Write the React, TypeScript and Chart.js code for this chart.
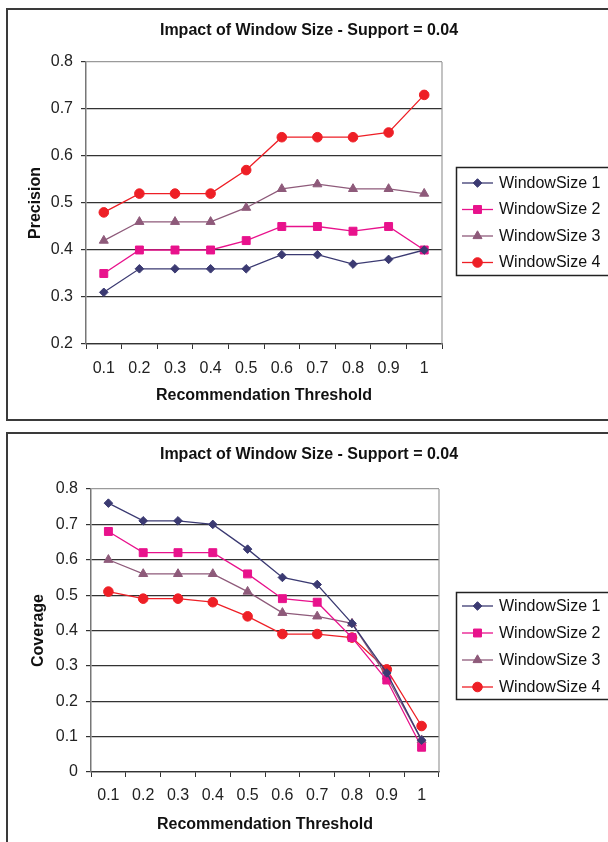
import React, { useEffect, useRef } from "react";
import { Chart, registerables } from "chart.js";
import { drawPoint } from "chart.js/helpers";

Chart.register(...registerables);

const FONT = '"Liberation Sans", Arial, Helvetica, sans-serif';

// ---------- data ----------
const thresholds = ["0.1", "0.2", "0.3", "0.4", "0.5", "0.6", "0.7", "0.8", "0.9", "1"];
const seriesNames = ["WindowSize 1", "WindowSize 2", "WindowSize 3", "WindowSize 4"];
const chartTitle = "Impact of Window Size - Support = 0.04";
const xAxisTitle = "Recommendation Threshold";

const precisionWS1 = [0.31, 0.36, 0.36, 0.36, 0.36, 0.39, 0.39, 0.37, 0.38, 0.4];
const precisionWS2 = [0.35, 0.4, 0.4, 0.4, 0.42, 0.45, 0.45, 0.44, 0.45, 0.4];
const precisionWS3 = [0.42, 0.46, 0.46, 0.46, 0.49, 0.53, 0.54, 0.53, 0.53, 0.52];
const precisionWS4 = [0.48, 0.52, 0.52, 0.52, 0.57, 0.64, 0.64, 0.64, 0.65, 0.73];

const coverageWS1 = [0.76, 0.71, 0.71, 0.7, 0.63, 0.55, 0.53, 0.42, 0.28, 0.09];
const coverageWS2 = [0.68, 0.62, 0.62, 0.62, 0.56, 0.49, 0.48, 0.38, 0.26, 0.07];
const coverageWS3 = [0.6, 0.56, 0.56, 0.56, 0.51, 0.45, 0.44, 0.42, 0.27, 0.09];
const coverageWS4 = [0.51, 0.49, 0.49, 0.48, 0.44, 0.39, 0.39, 0.38, 0.29, 0.13];

const precisionRange = { min: 0.2, max: 0.8, step: 0.1 };
const coverageRange = { min: 0, max: 0.8, step: 0.1 };

// ---------- styles ----------
const seriesColors = ["#3b3a72", "#e8128c", "#8e5a7a", "#ee1f26"];
const seriesMarkers = ["rectRot", "rect", "triangle", "circle"];
const markerRadius = [4.3, 5.6, 5.2, 4.8];

type Layout = {
  height: number;
  top: number;
  left: number;
  right: number;
  bottom: number;
  titleY: number;
  yTitlePad: number;
  xLabelPad: number;
  xTitlePad: number;
  legendTop: number;
  legendBottom: number;
  legendFirst: number;
  legendStep: number;
};

const topLayout: Layout = {
  height: 421,
  top: 62,
  left: 86,
  right: 442,
  bottom: 344,
  titleY: 31,
  yTitlePad: 26,
  xLabelPad: 10,
  xTitlePad: 16,
  legendTop: 167,
  legendBottom: 275,
  legendFirst: 183,
  legendStep: 26.5,
};

const bottomLayout: Layout = {
  height: 421,
  top: 68,
  left: 91,
  right: 439,
  bottom: 351,
  titleY: 34,
  yTitlePad: 29,
  xLabelPad: 9,
  xTitlePad: 8,
  legendTop: 171,
  legendBottom: 278,
  legendFirst: 185,
  legendStep: 27,
};

const decorPlugin = {
  id: "decor",
  beforeDatasetsDraw(chart: any) {
    const { ctx, chartArea } = chart;
    ctx.save();
    ctx.strokeStyle = "#9a9a9a";
    ctx.lineWidth = 1.2;
    ctx.beginPath();
    ctx.moveTo(chartArea.right, chartArea.top);
    ctx.lineTo(chartArea.right, chartArea.bottom);
    ctx.stroke();
    ctx.restore();
  },
  afterDraw(chart: any, _args: any, opts: any) {
    const { ctx } = chart;
    const L: Layout = opts.layout;
    ctx.save();
    // title
    ctx.fillStyle = "#111";
    ctx.font = `bold 16px ${FONT}`;
    ctx.textAlign = "center";
    ctx.textBaseline = "middle";
    ctx.fillText(opts.title, 309, L.titleY);

    // legend box
    ctx.strokeStyle = "#222";
    ctx.lineWidth = 1.5;
    ctx.strokeRect(456.5, L.legendTop + 0.5, 200, L.legendBottom - L.legendTop);

    chart.data.datasets.forEach((ds: any, i: number) => {
      const y = L.legendFirst + i * L.legendStep;
      ctx.strokeStyle = seriesColors[i];
      ctx.fillStyle = seriesColors[i];
      ctx.lineWidth = 1.3;
      ctx.beginPath();
      ctx.moveTo(462, y);
      ctx.lineTo(493, y);
      ctx.stroke();
      ctx.lineWidth = 1;
      drawPoint(
        ctx,
        { pointStyle: seriesMarkers[i], radius: markerRadius[i], rotation: 0, borderWidth: 1 } as any,
        477.5,
        y
      );
      ctx.fillStyle = "#111";
      ctx.font = `16px ${FONT}`;
      ctx.textAlign = "left";
      ctx.textBaseline = "middle";
      ctx.fillText(ds.label, 499, y + 0.5);
    });
    ctx.restore();
  },
};

function buildDatasets(values: number[][]) {
  return values.map((data, i) => ({
    label: seriesNames[i],
    data,
    borderColor: seriesColors[i],
    backgroundColor: seriesColors[i],
    borderWidth: 1.3,
    pointStyle: seriesMarkers[i],
    pointRadius: markerRadius[i],
    pointBorderWidth: 1,
    pointBackgroundColor: seriesColors[i],
    pointBorderColor: seriesColors[i],
    tension: 0,
    fill: false,
  }));
}

function makeConfig(values: number[][], yTitle: string, range: { min: number; max: number; step: number }, L: Layout): any {
  return {
    type: "line",
    data: { labels: thresholds, datasets: buildDatasets(values) },
    plugins: [decorPlugin],
    options: {
      animation: false,
      responsive: false,
      devicePixelRatio: 1,
      layout: { padding: { left: 0, top: L.top, right: 608 - L.right, bottom: 0 } },
      plugins: {
        legend: { display: false },
        title: { display: false },
        tooltip: { enabled: false },
        decor: { title: chartTitle, layout: L },
      },
      scales: {
        x: {
          type: "category",
          offset: true,
          grid: {
            offset: true,
            drawOnChartArea: false,
            drawTicks: true,
            tickLength: 5,
            color: "#333",
            lineWidth: 1,
          },
          border: { color: "#333", width: 1.3 },
          ticks: {
            font: { family: FONT, size: 16 },
            color: "#222",
            padding: L.xLabelPad,
            maxRotation: 0,
            autoSkip: false,
          },
          title: {
            display: true,
            text: xAxisTitle,
            color: "#111",
            font: { family: FONT, size: 16, weight: "bold" },
            padding: { top: 0, bottom: L.xTitlePad },
          },
          afterFit: (s: any) => {
            s.height = L.height - L.bottom;
          },
        },
        y: {
          type: "linear",
          min: range.min,
          max: range.max,
          ticks: {
            stepSize: range.step,
            font: { family: FONT, size: 16 },
            color: "#222",
            padding: 8,
            callback: (v: any) => String(Number(Number(v).toFixed(1))),
          },
          grid: {
            color: (c: any) =>
              c.tick && Math.abs(c.tick.value - range.max) < 1e-6 ? "#9a9a9a" : "#333",
            tickColor: "#333",
            tickLength: 5,
            lineWidth: 1.2,
            drawTicks: true,
          },
          border: { color: "#777", width: 1.5 },
          title: {
            display: true,
            text: yTitle,
            color: "#111",
            font: { family: FONT, size: 16, weight: "bold" },
            padding: { top: L.yTitlePad, bottom: 0 },
          },
          afterFit: (s: any) => {
            s.width = L.left;
          },
        },
      },
    },
  };
}

function LineChart({ config, height, top }: { config: any; height: number; top: number }) {
  const ref = useRef<HTMLCanvasElement | null>(null);
  useEffect(() => {
    if (!ref.current) return;
    const chart = new Chart(ref.current, config);
    return () => chart.destroy();
  }, [config]);
  return (
    <canvas
      ref={ref}
      width={608}
      height={height}
      style={{ position: "absolute", left: 0, top, width: 608, height }}
    />
  );
}

const precisionConfig = makeConfig(
  [precisionWS1, precisionWS2, precisionWS3, precisionWS4],
  "Precision",
  precisionRange,
  topLayout
);
const coverageConfig = makeConfig(
  [coverageWS1, coverageWS2, coverageWS3, coverageWS4],
  "Coverage",
  coverageRange,
  bottomLayout
);

export default function App() {
  const boxStyle: React.CSSProperties = {
    position: "absolute",
    left: 6,
    width: 640,
    border: "2px solid #3a3a3a",
    boxSizing: "border-box",
    pointerEvents: "none",
  };
  return (
    <div
      style={{
        position: "fixed",
        left: 0,
        top: 0,
        width: 608,
        height: 842,
        overflow: "hidden",
        background: "#fff",
      }}
    >
      <LineChart config={precisionConfig} height={topLayout.height} top={0} />
      <LineChart config={coverageConfig} height={bottomLayout.height} top={421} />
      <div style={{ ...boxStyle, top: 8, height: 413 }} />
      <div style={{ ...boxStyle, top: 432, height: 440 }} />
    </div>
  );
}
